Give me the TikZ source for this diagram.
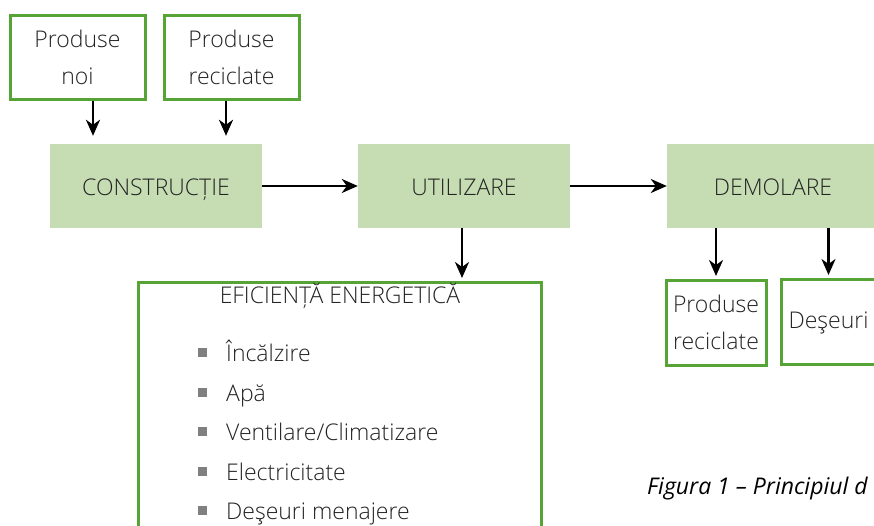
\documentclass[tikz,border=0pt]{standalone}
\usepackage{fontspec}
\setmainfont{Open Sans Light}
\newfontfamily\capfont{Open Sans}
\usetikzlibrary{arrows.meta}

\definecolor{boxgreen}{RGB}{86,164,54}
\definecolor{fillgreen}{RGB}{198,221,179}
\definecolor{bulletgray}{RGB}{128,128,128}
\definecolor{txt}{RGB}{35,35,35}

\tikzset{
  outbox/.style={draw=boxgreen, line width=3pt, fill=white, inner sep=0pt, align=center, text=txt},
  phase/.style={fill=fillgreen, inner sep=0pt, minimum width=212pt, minimum height=84pt, text=txt, text height=24pt, text depth=4pt},
  arr/.style={-{Stealth[length=16pt,width=14pt,inset=5pt]}, line width=2.4pt},
  bullet/.style={fill=bulletgray, inner sep=0pt, minimum size=9pt},
  item/.style={anchor=base west, inner sep=0pt, text=txt}
}

\begin{document}
\begin{tikzpicture}[x=1pt, y=-1pt, font=\fontsize{23}{37}\selectfont]

\clip (0,0) rectangle (874,526);

% Draw input boxes
\node[outbox, minimum width=135pt, minimum height=84pt] (noi) at (77.5,57.5) {Produse\\noi};
\node[outbox, minimum width=135pt, minimum height=84pt] (reciup) at (231.5,57.5) {Produse\\reciclate};

% Draw the three phases
\node[phase] (constr) at (156,186) {CONSTRUCȚIE};
\node[phase] (util) at (464,186) {UTILIZARE};
\node[phase] (demol) at (773,186) {DEMOLARE};

% Draw energy efficiency box and its list
\node[outbox, minimum width=403pt, minimum height=318pt] (eff) at (339.5,441) {};
\node[text=txt, inner sep=0pt, anchor=base] (title) at (340,303) {EFICIENȚĂ ENERGETICĂ};
\foreach \txt [count=\i] in {Încălzire, Apă, Ventilare/Climatizare, Electricitate, Deşeuri menajere} {
  \node[bullet] (b\i) at (202,{313+39.5*\i}) {};
  \node[item] (t\i) at (226,{322+39.5*\i}) {\txt};
}

% Draw output boxes
\node[outbox, minimum width=100pt, minimum height=85pt] (recidown) at (716,322.5) {Produse\\reciclate};
\node[outbox, minimum width=95pt, minimum height=85pt, text height=17pt, text depth=3pt] (deseuri) at (828.5,321.5) {Deşeuri};

% Draw arrows
\coordinate (p1) at ([xshift=15.5pt]noi.south);
\coordinate (p2) at ([xshift=-5.5pt]reciup.south);
\coordinate (p3) at ([xshift=-2pt]util.south);
\draw[arr, shorten >=8pt] (p1) -- (p1 |- constr.north);
\draw[arr, shorten >=8pt] (p2) -- (p2 |- constr.north);
\draw[arr] (constr.east) -- (util.west);
\draw[arr] (util.east) -- (demol.west);
\draw[arr, shorten >=2.5pt] (p3) -- (p3 |- eff.north);
\draw[arr, shorten >=2.5pt] (recidown.north |- demol.south) -- (recidown.north);
\draw[arr, shorten >=2.5pt] (deseuri.north |- demol.south) -- (deseuri.north);

% Caption
\node[anchor=base west, inner sep=0pt, text=black, font=\capfont\itshape\fontsize{23}{27}\selectfont] (caption) at (647,494) {Figura 1 – Principiul d};

\end{tikzpicture}
\end{document}
